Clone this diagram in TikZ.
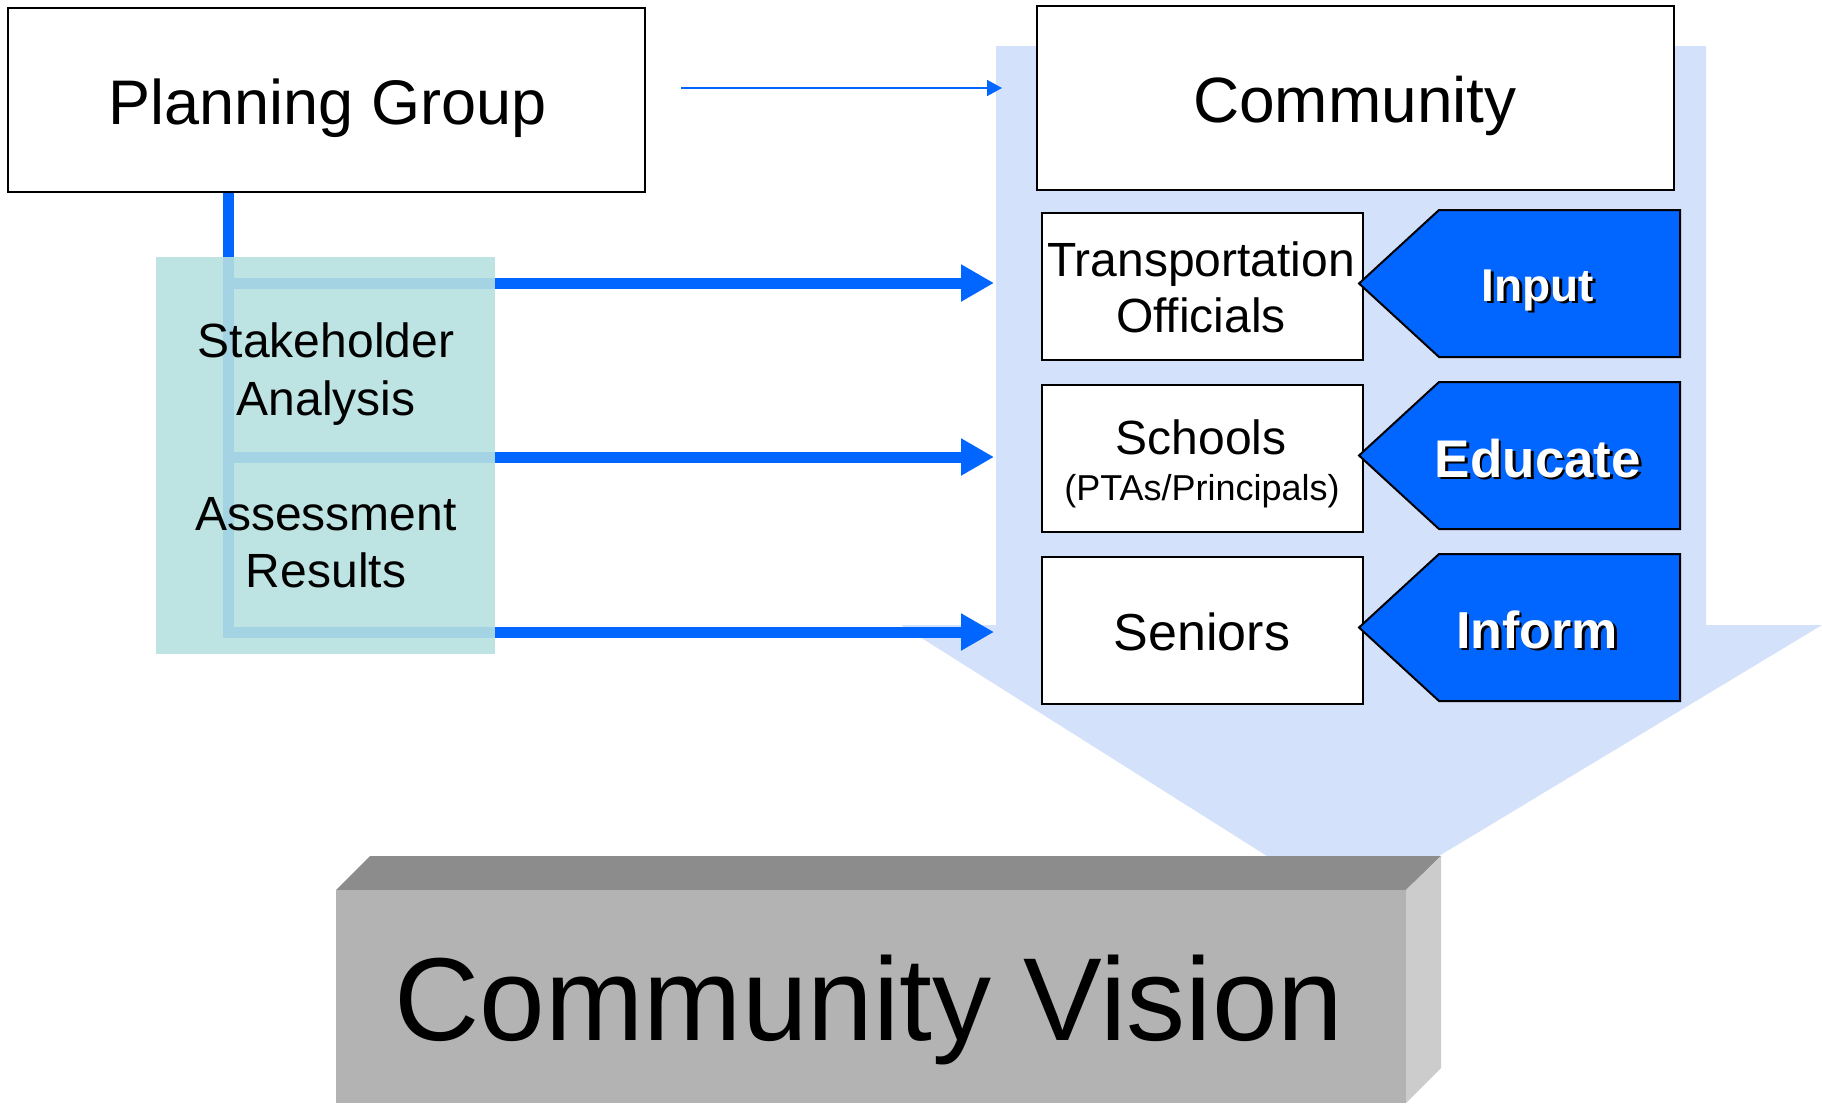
\documentclass[tikz,border=0pt]{standalone}
\usepackage{fontspec}
\setmainfont{Liberation Sans}
\usetikzlibrary{arrows.meta}
\definecolor{vblue}{RGB}{0,102,255}
\definecolor{paleblue}{RGB}{212,225,250}
\definecolor{tealbox}{RGB}{182,224,224}
\definecolor{gtop}{RGB}{140,140,140}
\definecolor{gfront}{RGB}{179,179,179}
\definecolor{gside}{RGB}{204,204,204}
\newcommand{\fsz}[1]{\fontsize{#1bp}{#1bp}\selectfont}
\begin{document}
\begin{tikzpicture}[x=1bp,y=-1bp,
  wbox/.style={draw=black, line width=2.2bp, fill=white, inner sep=0pt},
  txt/.style={anchor=base, inner sep=0pt, font=\fsz{#1}},
  btxt/.style={anchor=base, inner sep=0pt, font=\fsz{#1}\bfseries, text=white},
  stxt/.style={anchor=base, inner sep=0pt, font=\fsz{#1}\bfseries, text=black},
  chev/.style={fill=vblue, draw=black, line width=2bp, line join=miter},
  conn/.style={draw=vblue, line width=11bp, -{Triangle[length=33bp,width=35bp]}},
  thinconn/.style={draw=vblue, line width=1.6bp, -{Triangle[length=15bp,width=16bp]}}]
\useasboundingbox (0,0) rectangle (1822,1106);
\fill[white] (0,0) rectangle (1822,1106);

% pale background arrow
\fill[paleblue] (996,46) -- (1706,46) -- (1706,625) -- (1822,625) -- (1351,909)
  -- (901,625) -- (996,625) -- cycle;

% community boxes
\node[wbox, minimum width=637bp, minimum height=184bp] (cm) at (1355.5,98) {};
\node[txt=64] (cmt) at (1355,122) {Community};

\node[wbox, minimum width=321bp, minimum height=147bp] (to) at (1202.5,286.5) {};
\node[wbox, minimum width=321bp, minimum height=147bp] (sc) at (1202.5,458.5) {};
\node[wbox, minimum width=321bp, minimum height=147bp] (se) at (1202.5,630.5) {};
\node[txt=48] (tot1) at (1201,276) {Transportation};
\node[txt=48] (tot2) at (1201,332) {Officials};
\node[txt=48] (sct1) at (1201,454) {Schools};
\node[txt=36] (sct2) at (1202,500) {(PTAs/Principals)};
\node[txt=52] (set) at (1202,650) {Seniors};

% chevrons
\foreach \c in {283.5,455.5,627.5}
  \draw[chev] (1359,\c) -- (1439,\c-73.5) -- (1680,\c-73.5) -- (1680,\c+73.5)
    -- (1439,\c+73.5) -- cycle;
\node[stxt=46] (ins) at (1540.5,303.5) {Input};
\node[btxt=46] (in) at (1538,301) {Input};
\node[stxt=53] (eds) at (1540.5,479.5) {Educate};
\node[btxt=53] (ed) at (1538,477) {Educate};
\node[stxt=52] (ifs) at (1539.5,650.5) {Inform};
\node[btxt=52] (if) at (1537,648) {Inform};

% planning group
\node[wbox, minimum width=637bp, minimum height=184bp] (pg) at (326.5,100) {};
\node[txt=63] (pgt) at (327.5,124) {Planning Group};

% connectors
\coordinate (pgs) at (228,193);
\coordinate (a1) at (994,283);
\coordinate (a2) at (994,457);
\coordinate (a3) at (994,632);
\draw[conn] (pgs) |- (a1);
\draw[conn] (pgs) |- (a2);
\draw[conn] (pgs) |- (a3);

% thin arrow
\coordinate (t1) at (681,88);
\coordinate (t2) at (1002,88);
\draw[thinconn] (t1) -- (t2);

% teal box
\node[fill=tealbox, fill opacity=0.9, minimum width=339bp, minimum height=397bp,
  inner sep=0pt] (sa) at (325.5,455.5) {};
\node[txt=48] (sat1) at (326,357) {Stakeholder};
\node[txt=48] (sat2) at (326,415) {Analysis};
\node[txt=48] (sat3) at (326,530) {Assessment};
\node[txt=48] (sat4) at (326,587) {Results};

% community vision block
\fill[gtop] (336,890) -- (370,856) -- (1441,856) -- (1406,890) -- cycle;
\fill[gside] (1406,890) -- (1441,856) -- (1441,1068) -- (1406,1103) -- cycle;
\node[fill=gfront, minimum width=1070bp, minimum height=213bp, inner sep=0pt]
  (cv) at (871,996.5) {};
\node[txt=118] (cvt) at (869,1040) {Community Vision};
\end{tikzpicture}
\end{document}
